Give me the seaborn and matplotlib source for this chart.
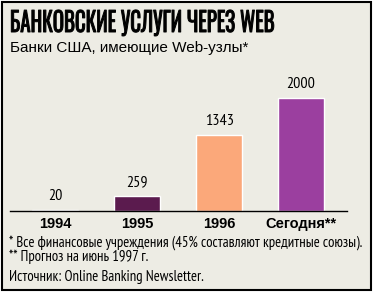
import matplotlib
matplotlib.use("Agg")
import matplotlib.pyplot as plt
import seaborn as sns
import pandas as pd
from matplotlib import font_manager as fm
from matplotlib.patheffects import AbstractPathEffect
from matplotlib.transforms import Affine2D
from matplotlib.patches import Rectangle

# ---- data ----
categories = ["1994", "1995", "1996", "Сегодня**"]
values = [20, 259, 1343, 2000]
bar_colors = ["#A9CDE2", "#5B1B4E", "#FBA87A", "#9B3F9F"]

title = "БАНКОВСКИЕ УСЛУГИ ЧЕРЕЗ WEB"
subtitle = "Банки США, имеющие Web-узлы*"
note1 = "* Все финансовые учреждения (45% составляют кредитные союзы)."
note2 = "** Прогноз на июнь 1997 г."
source = "Источник: Online Banking Newsletter."

W, H = 374, 292
BG = "#EDECE4"

_installed = {f.name for f in fm.fontManager.ttflist}


def pick(cands, default="DejaVu Sans"):
    for c in cands:
        if c in _installed:
            return [c, "DejaVu Sans"]
    return [default]


NARROW = pick(["Liberation Sans Narrow", "PT Sans Narrow", "Roboto Condensed",
               "Fira Sans Condensed", "IBM Plex Sans Condensed", "Sofia Sans Condensed"])
HEAVY = pick(["Oswald", "PT Sans Narrow", "Roboto Condensed", "Fira Sans Extra Condensed",
              "Liberation Sans Narrow"])
SANS = pick(["Liberation Sans", "Arimo", "Roboto"])


class VScale(AbstractPathEffect):
    """Stretch glyphs vertically about a baseline (display coords) and embolden them."""
    def __init__(self, sy, y0, stroke=0.0):
        super().__init__()
        self.sy = sy
        self.y0 = y0
        self.stroke = stroke

    def draw_path(self, renderer, gc, tpath, affine, rgbFace=None):
        aff = affine + Affine2D().translate(0, -self.y0).scale(1, self.sy).translate(0, self.y0)
        gc0 = renderer.new_gc()
        gc0.copy_properties(gc)
        gc0.set_linewidth(self.stroke)
        gc0.set_foreground(rgbFace if rgbFace is not None else "black")
        renderer.draw_path(gc0, tpath, aff, rgbFace)
        gc0.restore()


sns.set_style("white")
plt.rcParams["font.family"] = SANS

fig = plt.figure(figsize=(W / 100, H / 100), dpi=100, facecolor="white")
fig.patches.append(Rectangle((1.5 / W, 2 / H), 369.5 / W, 288.5 / H, transform=fig.transFigure,
                             facecolor=BG, edgecolor="black", linewidth=1.5, zorder=-5))

ax = fig.add_axes([10 / W, 81 / H, 337 / W, 121 / H])
ax.set_zorder(2)
ax.set_facecolor("none")
df = pd.DataFrame({"cat": categories, "val": values})
sns.barplot(data=df, x="cat", y="val", hue="cat", palette=bar_colors, width=0.56,
            saturation=1, legend=False, ax=ax)
ax.set_xlim(-0.55, 3.56)
ax.set_ylim(0, 2142)
for c in ax.containers:
    ax.bar_label(c, labels=[f"{v:g}" for v in c.datavalues], padding=5, fontsize=11.5,
                 family=NARROW, color="black")
for s in ["left", "right", "top"]:
    ax.spines[s].set_visible(False)
ax.spines["bottom"].set_color("black")
ax.spines["bottom"].set_linewidth(1.0)
ax.set_yticks([])
ax.tick_params(axis="x", length=0, pad=4)
for lab in ax.get_xticklabels():
    lab.set_fontweight("bold")
    lab.set_fontsize(10.5)
    lab.set_color("black")
ax.set_xlabel("")
ax.set_ylabel("")


def ftext(x, y, s, **kw):
    return fig.text(x / W, 1 - y / H, s, va="baseline", ha="left", color="black", **kw)


t = ftext(10, 32, title, fontsize=15, fontweight="bold", family=HEAVY)
t.set_path_effects([VScale(1.3, H - 32, stroke=0.7)])
ftext(10, 52, subtitle, fontsize=11)
ftext(9, 247, note1, fontsize=10.6, family=NARROW)
ftext(9, 261, note2, fontsize=10.6, family=NARROW)
ftext(9, 281, source, fontsize=10.6, family=NARROW)

fig.savefig("out.png", dpi=100, facecolor="white")
